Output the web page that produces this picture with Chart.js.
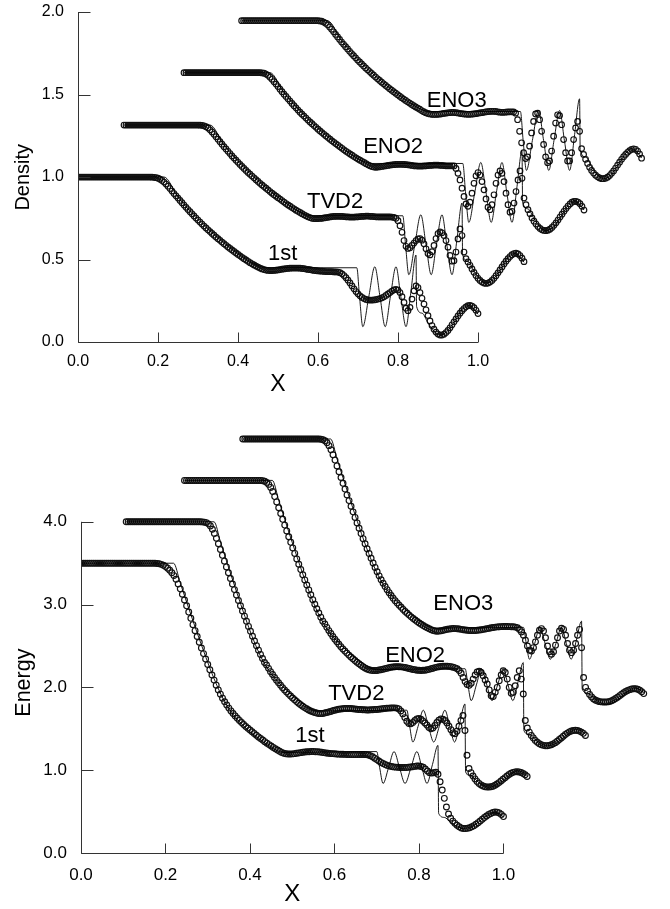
<!DOCTYPE html>
<html>
<head>
<meta charset="utf-8">
<script src="https://cdn.jsdelivr.net/npm/chart.js@4.4.1/dist/chart.umd.min.js"></script>
<style>
  html, body { margin: 0; padding: 0; background: #fff; }
  #wrap { width: 670px; height: 909px; }
  canvas { display: block; }
</style>
</head>
<body>
<div id="wrap">
  <canvas id="densityChart" width="670" height="420"></canvas>
  <canvas id="energyChart" width="670" height="489"></canvas>
</div>
<script>
const schemes = ["1st", "TVD2", "ENO2", "ENO3"];

// local grid of the computed solution (each curve is shifted in x and y in the figure)
const xGrid = [
  0, 0.005, 0.01, 0.015, 0.02, 0.025, 0.03, 0.035, 0.04, 0.045,
  0.05, 0.055, 0.06, 0.065, 0.07, 0.075, 0.08, 0.085, 0.09, 0.095,
  0.1, 0.105, 0.11, 0.115, 0.12, 0.125, 0.13, 0.135, 0.14, 0.145,
  0.15, 0.155, 0.16, 0.165, 0.17, 0.175, 0.18, 0.185, 0.19, 0.195,
  0.2, 0.205, 0.21, 0.215, 0.22, 0.225, 0.23, 0.235, 0.24, 0.245,
  0.25, 0.255, 0.26, 0.265, 0.27, 0.275, 0.28, 0.285, 0.29, 0.295,
  0.3, 0.305, 0.31, 0.315, 0.32, 0.325, 0.33, 0.335, 0.34, 0.345,
  0.35, 0.355, 0.36, 0.365, 0.37, 0.375, 0.38, 0.385, 0.39, 0.395,
  0.4, 0.405, 0.41, 0.415, 0.42, 0.425, 0.43, 0.435, 0.44, 0.445,
  0.45, 0.455, 0.46, 0.465, 0.47, 0.475, 0.48, 0.485, 0.49, 0.495,
  0.5, 0.505, 0.51, 0.515, 0.52, 0.525, 0.53, 0.535, 0.54, 0.545,
  0.55, 0.555, 0.56, 0.565, 0.57, 0.575, 0.58, 0.585, 0.59, 0.595,
  0.6, 0.605, 0.61, 0.615, 0.62, 0.625, 0.63, 0.635, 0.64, 0.645,
  0.65, 0.655, 0.66, 0.665, 0.67, 0.675, 0.68, 0.685, 0.69, 0.695,
  0.7, 0.705, 0.71, 0.715, 0.72, 0.725, 0.73, 0.735, 0.74, 0.745,
  0.75, 0.755, 0.76, 0.765, 0.77, 0.775, 0.78, 0.785, 0.79, 0.795,
  0.8, 0.805, 0.81, 0.815, 0.82, 0.825, 0.83, 0.835, 0.84, 0.845,
  0.85, 0.855, 0.86, 0.865, 0.87, 0.875, 0.88, 0.885, 0.89, 0.895,
  0.9, 0.905, 0.91, 0.915, 0.92, 0.925, 0.93, 0.935, 0.94, 0.945,
  0.95, 0.955, 0.96, 0.965, 0.97, 0.975, 0.98, 0.985, 0.99, 0.995,
  1
];

// ---- density ----
const den1st = [
  1,1,1,1,1,1,1,1,1,1, 1,1,1,1,1,1,1,1,1,1, 1,1,1,1,1,1,1,1,1,1,
  1,1,1,1,1,1,1,0.999,0.998,0.996,
  0.993,0.987,0.979,0.969,0.957,0.944,0.93,0.915,0.9,0.886,
  0.872,0.858,0.844,0.83,0.816,0.803,0.79,0.777,0.764,0.751,
  0.739,0.727,0.715,0.703,0.691,0.68,0.669,0.658,0.647,0.636,
  0.626,0.616,0.606,0.596,0.586,0.576,0.567,0.558,0.549,0.54,
  0.531,0.522,0.513,0.505,0.497,0.489,0.481,0.474,0.467,0.46,
  0.454,0.448,0.443,0.439,0.436,0.434,0.433,0.433,0.434,0.435,
  0.437,0.439,0.441,0.443,0.445,0.446,0.447,0.448,0.448,0.448,
  0.448,0.447,0.446,0.444,0.442,0.44,0.438,0.436,0.434,0.432,
  0.431,0.43,0.429,0.428,0.427,0.427,0.426,0.426,0.425,0.425,
  0.424,0.42,0.413,0.403,0.39,0.375,0.358,0.34,0.322,0.306,
  0.292,0.28,0.27,0.263,0.258,0.255,0.254,0.254,0.255,0.257,
  0.26,0.263,0.268,0.274,0.282,0.291,0.3,0.309,0.316,0.319,
  0.315,0.3,0.275,0.24,0.205,0.19,0.21,0.26,0.31,0.34,
  0.33,0.3,0.265,0.23,0.195,0.16,0.128,0.1,0.078,0.06,
  0.048,0.042,0.042,0.047,0.057,0.07,0.086,0.104,0.122,0.14,
  0.158,0.175,0.19,0.203,0.213,0.22,0.222,0.218,0.208,0.192,
  0.172
];
const denTVD2 = [
  1,1,1,1,1,1,1,1,1,1, 1,1,1,1,1,1,1,1,1,1, 1,1,1,1,1,1,1,1,1,1,
  1,1,1,1,1,1,1,1,0.999,0.998,
  0.995,0.99,0.982,0.971,0.958,0.944,0.929,0.914,0.899,0.884,
  0.869,0.855,0.841,0.827,0.813,0.8,0.787,0.774,0.761,0.749,
  0.737,0.725,0.713,0.702,0.691,0.68,0.669,0.658,0.647,0.637,
  0.627,0.617,0.607,0.597,0.587,0.578,0.569,0.56,0.551,0.542,
  0.533,0.524,0.516,0.508,0.5,0.492,0.484,0.477,0.47,0.463,
  0.456,0.45,0.444,0.439,0.435,0.433,0.432,0.433,0.434,0.435,
  0.437,0.439,0.441,0.443,0.445,0.446,0.447,0.447,0.447,0.446,
  0.445,0.444,0.443,0.442,0.442,0.442,0.443,0.444,0.445,0.446,
  0.447,0.448,0.448,0.447,0.446,0.445,0.444,0.443,0.443,0.443,
  0.443,0.443,0.443,0.443,0.442,0.44,0.435,0.42,0.39,0.35,
  0.3,0.265,0.252,0.256,0.27,0.285,0.3,0.31,0.312,0.302,
  0.28,0.25,0.222,0.213,0.232,0.27,0.312,0.342,0.352,0.347,
  0.33,0.3,0.26,0.21,0.175,0.178,0.23,0.31,0.37,0.33,
  0.23,0.19,0.17,0.15,0.128,0.107,0.088,0.071,0.058,0.048,
  0.042,0.04,0.042,0.048,0.058,0.071,0.087,0.104,0.122,0.14,
  0.158,0.175,0.19,0.203,0.214,0.221,0.223,0.219,0.209,0.193,
  0.172
];
const denENO2 = [
  1,1,1,1,1,1,1,1,1,1, 1,1,1,1,1,1,1,1,1,1, 1,1,1,1,1,1,1,1,1,1,
  1,1,1,1,1,1,1,1,1,0.999,
  0.997,0.992,0.984,0.973,0.96,0.946,0.931,0.916,0.9,0.885,
  0.87,0.856,0.842,0.828,0.814,0.8,0.787,0.774,0.761,0.749,
  0.737,0.725,0.713,0.702,0.691,0.68,0.669,0.658,0.647,0.637,
  0.627,0.617,0.607,0.597,0.587,0.578,0.569,0.56,0.551,0.542,
  0.533,0.524,0.516,0.508,0.5,0.492,0.484,0.477,0.47,0.463,
  0.456,0.449,0.442,0.436,0.431,0.428,0.427,0.428,0.43,0.432,
  0.434,0.436,0.438,0.44,0.442,0.443,0.444,0.445,0.445,0.445,
  0.444,0.443,0.442,0.44,0.438,0.436,0.435,0.434,0.434,0.434,
  0.435,0.436,0.437,0.438,0.439,0.44,0.44,0.44,0.439,0.438,
  0.437,0.436,0.436,0.436,0.436,0.435,0.42,0.39,0.35,0.3,
  0.25,0.205,0.19,0.215,0.27,0.33,0.375,0.395,0.38,0.34,
  0.29,0.235,0.185,0.17,0.2,0.26,0.33,0.38,0.405,0.39,
  0.34,0.27,0.2,0.155,0.16,0.21,0.28,0.35,0.405,0.36,
  0.24,0.2,0.17,0.145,0.12,0.1,0.083,0.068,0.056,0.048,
  0.044,0.043,0.046,0.052,0.062,0.075,0.09,0.107,0.125,0.143,
  0.16,0.177,0.192,0.205,0.215,0.22,0.221,0.216,0.206,0.19,
  0.168
];
const denENO3 = [
  1,1,1,1,1,1,1,1,1,1, 1,1,1,1,1,1,1,1,1,1, 1,1,1,1,1,1,1,1,1,1,
  1,1,1,1,1,1,1,1,1,0.999,
  0.997,0.992,0.985,0.975,0.962,0.948,0.933,0.917,0.902,0.887,
  0.871,0.857,0.843,0.829,0.815,0.801,0.788,0.775,0.762,0.75,
  0.738,0.726,0.714,0.703,0.692,0.681,0.67,0.659,0.648,0.638,
  0.628,0.618,0.608,0.598,0.588,0.579,0.57,0.561,0.552,0.543,
  0.534,0.525,0.517,0.509,0.501,0.493,0.485,0.478,0.471,0.464,
  0.456,0.449,0.443,0.438,0.435,0.433,0.432,0.432,0.433,0.434,
  0.436,0.438,0.44,0.442,0.443,0.444,0.444,0.443,0.441,0.439,
  0.437,0.435,0.434,0.433,0.433,0.434,0.435,0.437,0.439,0.441,
  0.443,0.445,0.447,0.449,0.45,0.451,0.451,0.45,0.448,0.446,
  0.445,0.445,0.446,0.447,0.448,0.448,0.447,0.44,0.4,0.33,
  0.26,0.2,0.165,0.175,0.24,0.32,0.39,0.435,0.44,0.4,
  0.33,0.25,0.175,0.14,0.15,0.21,0.3,0.38,0.43,0.425,
  0.37,0.28,0.2,0.15,0.15,0.2,0.28,0.35,0.39,0.33,
  0.225,0.19,0.16,0.135,0.112,0.093,0.077,0.064,0.054,0.047,
  0.043,0.043,0.046,0.052,0.062,0.075,0.09,0.107,0.125,0.143,
  0.16,0.176,0.19,0.203,0.213,0.22,0.224,0.221,0.21,0.192,
  0.167
];
// reference (thin line) solution, same local coordinates
const denExactX = [0, 0.215, 0.25, 0.3, 0.35, 0.4, 0.45, 0.472, 0.697, 0.704, 0.712, 0.727, 0.742, 0.755,
  0.768, 0.781, 0.795, 0.807, 0.82, 0.8325, 0.845, 0.8465, 0.86, 0.875, 0.89, 0.905, 0.92, 0.94, 0.96, 0.975, 0.99, 1];
const denExactY = [1, 1, 0.878, 0.742, 0.632, 0.537, 0.462, 0.45, 0.45, 0.27, 0.093, 0.275, 0.456, 0.275,
  0.093, 0.275, 0.456, 0.275, 0.093, 0.31, 0.527, 0.215, 0.175, 0.115, 0.065, 0.043, 0.058, 0.12, 0.195, 0.224, 0.2, 0.168];
const denShiftX = [0, 0.115, 0.265, 0.409];
const denShiftY = [0, 0.315, 0.632, 0.947];
const denWidth = [1, 1, 1, 1];
const denYTicks = [0, 0.5, 1, 1.5, 2];
const denTagX = [0.475, 0.5725, 0.713, 0.872];
const denTagY = [0.497, 0.812, 1.144, 1.426];

// ---- energy ----
const ene1st = [
  3.5,3.5,3.5,3.5,3.5,3.5,3.5,3.5,3.5,3.5, 3.5,3.5,3.5,3.5,3.5,3.5,3.5,3.5,3.5,3.5, 3.5,3.5,3.5,3.5,3.5,3.5,3.5,3.5,3.5,3.5,
  3.5,3.5,3.5,3.5,3.5,3.499,3.497,3.493,3.486,3.475,
  3.46,3.44,3.415,3.385,3.35,3.305,3.25,3.19,3.125,3.055,
  2.985,2.91,2.834,2.758,2.685,2.615,2.545,2.475,2.408,2.342,
  2.277,2.213,2.15,2.088,2.027,1.97,1.918,1.87,1.826,1.787,
  1.75,1.716,1.685,1.656,1.628,1.601,1.575,1.551,1.528,1.506,
  1.485,1.464,1.443,1.422,1.402,1.383,1.364,1.345,1.327,1.309,
  1.292,1.275,1.258,1.243,1.228,1.215,1.205,1.198,1.195,1.195,
  1.197,1.2,1.204,1.208,1.212,1.216,1.219,1.222,1.224,1.225,
  1.225,1.224,1.222,1.219,1.216,1.212,1.208,1.205,1.202,1.2,
  1.198,1.196,1.194,1.193,1.192,1.191,1.19,1.19,1.19,1.19,
  1.19,1.19,1.19,1.19,1.19,1.188,1.184,1.175,1.162,1.145,
  1.128,1.11,1.094,1.08,1.068,1.058,1.05,1.044,1.04,1.037,
  1.035,1.033,1.032,1.032,1.033,1.035,1.038,1.042,1.046,1.05,
  1.05,1.045,1.035,1.015,0.99,0.97,0.965,0.97,0.975,0.95,
  0.86,0.76,0.66,0.556,0.47,0.42,0.385,0.358,0.335,0.316,
  0.303,0.296,0.295,0.298,0.305,0.316,0.33,0.347,0.366,0.387,
  0.408,0.428,0.447,0.464,0.478,0.488,0.494,0.493,0.484,0.466,
  0.44
];
const eneTVD2 = [
  3.5,3.5,3.5,3.5,3.5,3.5,3.5,3.5,3.5,3.5, 3.5,3.5,3.5,3.5,3.5,3.5,3.5,3.5,3.5,3.5, 3.5,3.5,3.5,3.5,3.5,3.5,3.5,3.5,3.5,3.5,
  3.5,3.5,3.5,3.5,3.5,3.5,3.5,3.5,3.499,3.496,
  3.49,3.475,3.45,3.41,3.36,3.3,3.235,3.165,3.095,3.025,
  2.955,2.885,2.815,2.748,2.681,2.615,2.55,2.486,2.423,2.36,
  2.298,2.237,2.177,2.118,2.06,2.004,1.95,1.898,1.848,1.8,
  1.77,1.73,1.69,1.655,1.62,1.587,1.556,1.526,1.497,1.47,
  1.444,1.419,1.395,1.372,1.35,1.329,1.309,1.29,1.272,1.256,
  1.241,1.228,1.216,1.205,1.196,1.19,1.186,1.185,1.186,1.19,
  1.196,1.203,1.21,1.217,1.224,1.23,1.235,1.239,1.242,1.244,
  1.245,1.245,1.244,1.242,1.24,1.237,1.234,1.232,1.23,1.229,
  1.228,1.228,1.229,1.23,1.232,1.234,1.237,1.24,1.243,1.246,
  1.248,1.25,1.252,1.253,1.253,1.25,1.24,1.215,1.18,1.135,
  1.09,1.065,1.06,1.075,1.1,1.12,1.125,1.115,1.095,1.07,
  1.045,1.015,1.0,1.01,1.04,1.075,1.105,1.12,1.115,1.1,
  1.07,1.03,0.99,0.95,0.94,0.97,1.03,1.1,1.16,0.98,
  0.68,0.52,0.47,0.43,0.395,0.365,0.34,0.322,0.308,0.3,
  0.296,0.296,0.3,0.307,0.318,0.333,0.35,0.37,0.39,0.41,
  0.43,0.448,0.463,0.474,0.48,0.482,0.479,0.472,0.46,0.445,
  0.425
];
const eneENO2 = [
  3.5,3.5,3.5,3.5,3.5,3.5,3.5,3.5,3.5,3.5, 3.5,3.5,3.5,3.5,3.5,3.5,3.5,3.5,3.5,3.5, 3.5,3.5,3.5,3.5,3.5,3.5,3.5,3.5,3.5,3.5,
  3.5,3.5,3.5,3.5,3.5,3.5,3.5,3.5,3.5,3.497,
  3.49,3.476,3.452,3.415,3.365,3.305,3.24,3.17,3.1,3.03,
  2.96,2.89,2.82,2.752,2.685,2.618,2.552,2.487,2.423,2.36,
  2.298,2.237,2.177,2.118,2.06,2.004,1.95,1.898,1.848,1.8,
  1.765,1.725,1.686,1.65,1.615,1.582,1.551,1.521,1.492,1.465,
  1.439,1.414,1.39,1.367,1.345,1.324,1.304,1.285,1.267,1.25,
  1.235,1.222,1.212,1.206,1.203,1.203,1.205,1.209,1.214,1.22,
  1.226,1.232,1.238,1.243,1.247,1.25,1.251,1.25,1.248,1.245,
  1.24,1.235,1.229,1.223,1.217,1.212,1.208,1.206,1.205,1.206,
  1.208,1.212,1.218,1.225,1.232,1.239,1.245,1.25,1.254,1.256,
  1.257,1.256,1.254,1.25,1.244,1.236,1.225,1.205,1.17,1.12,
  1.07,1.035,1.025,1.05,1.1,1.15,1.185,1.195,1.18,1.14,
  1.09,1.04,0.97,0.9,0.89,0.94,1.0,1.08,1.15,1.2,
  1.18,1.1,1.0,0.93,0.94,1.02,1.12,1.2,1.1,0.92,
  0.6,0.51,0.46,0.42,0.39,0.36,0.338,0.32,0.308,0.3,
  0.296,0.296,0.3,0.307,0.318,0.333,0.35,0.37,0.39,0.41,
  0.43,0.448,0.463,0.474,0.48,0.482,0.479,0.472,0.46,0.445,
  0.42
];
const eneENO3 = [
  3.5,3.5,3.5,3.5,3.5,3.5,3.5,3.5,3.5,3.5, 3.5,3.5,3.5,3.5,3.5,3.5,3.5,3.5,3.5,3.5, 3.5,3.5,3.5,3.5,3.5,3.5,3.5,3.5,3.5,3.5,
  3.5,3.5,3.5,3.5,3.5,3.5,3.5,3.5,3.5,3.497,
  3.49,3.478,3.455,3.42,3.37,3.31,3.245,3.175,3.105,3.035,
  2.965,2.895,2.825,2.756,2.688,2.62,2.553,2.487,2.422,2.358,
  2.296,2.235,2.175,2.116,2.059,2.003,1.949,1.897,1.847,1.8,
  1.758,1.718,1.68,1.644,1.61,1.578,1.548,1.52,1.493,1.467,
  1.442,1.418,1.395,1.373,1.352,1.332,1.313,1.295,1.278,1.262,
  1.247,1.233,1.22,1.208,1.197,1.188,1.182,1.179,1.18,1.184,
  1.19,1.196,1.202,1.206,1.209,1.211,1.21,1.208,1.205,1.201,
  1.197,1.193,1.19,1.188,1.187,1.187,1.188,1.19,1.193,1.197,
  1.201,1.205,1.21,1.215,1.22,1.224,1.228,1.231,1.233,1.234,
  1.235,1.235,1.235,1.234,1.233,1.232,1.228,1.22,1.2,1.17,
  1.13,1.07,1.0,0.95,0.94,0.98,1.05,1.13,1.19,1.21,
  1.18,1.1,1.0,0.93,0.9,0.93,1.01,1.1,1.18,1.215,
  1.2,1.13,1.03,0.95,0.92,0.95,1.03,1.13,1.2,0.98,
  0.62,0.5,0.455,0.415,0.385,0.36,0.345,0.335,0.328,0.325,
  0.323,0.323,0.325,0.33,0.338,0.35,0.365,0.382,0.4,0.418,
  0.435,0.45,0.463,0.473,0.48,0.484,0.484,0.478,0.466,0.448,
  0.425
];
const eneExactX = [0, 0.219, 0.235, 0.25, 0.266, 0.286, 0.306, 0.322, 0.34, 0.361, 0.38, 0.4, 0.42, 0.44, 0.464, 0.478,
  0.7, 0.707, 0.715, 0.728, 0.741, 0.754, 0.767, 0.781, 0.795, 0.807, 0.819, 0.832, 0.845, 0.8465,
  0.86, 0.875, 0.89, 0.905, 0.92, 0.94, 0.96, 0.975, 0.99, 1];
const eneExactY = [3.5, 3.5, 3.26, 3.03, 2.79, 2.5, 2.22, 2.02, 1.83, 1.67, 1.56, 1.465, 1.385, 1.31, 1.235, 1.215,
  1.225, 1.03, 0.84, 1.03, 1.225, 1.03, 0.84, 1.03, 1.225, 1.03, 0.84, 1.07, 1.3, 0.48,
  0.43, 0.37, 0.32, 0.296, 0.31, 0.37, 0.45, 0.49, 0.475, 0.435];
const eneShiftX = [0, 0.107, 0.245, 0.383];
const eneShiftY = [0, 0.5, 1.0, 1.5];
const eneWidth = [1, 0.949, 0.949, 0.949];
const eneYTicks = [0, 1, 2, 3, 4];
const eneTagX = [0.507, 0.585, 0.72, 0.834];
const eneTagY = [1.34, 1.844, 2.307, 2.93];

const xTicks = [0, 0.2, 0.4, 0.6, 0.8, 1.0];
const FONT = "'Liberation Sans', Arial, Helvetica, sans-serif";

function buildDatasets(series, exactX, exactY, shiftX, shiftY, width, radius) {
    const sets = [];
    series.forEach((vals, k) => {
        sets.push({
            label: schemes[k] + " exact",
            data: exactX.map((x, i) => ({ x: shiftX[k] + width[k] * x, y: shiftY[k] + exactY[i] })),
            showLine: true,
            borderColor: "#000",
            borderWidth: 0.9,
            pointRadius: 0,
            pointHoverRadius: 0,
            cubicInterpolationMode: "monotone"
        });
        sets.push({
            label: schemes[k],
            data: vals.map((v, i) => ({ x: shiftX[k] + width[k] * xGrid[i], y: shiftY[k] + v })),
            showLine: false,
            pointRadius: radius,
            pointHoverRadius: radius,
            pointBorderWidth: 1.15,
            pointBorderColor: "#111",
            pointBackgroundColor: "rgba(255,255,255,0)"
        });
    });
    return sets;
}

// axis frame, inward ticks, titles and curve tags
function frame(opt) {
    return {
        id: "frame",
        afterDraw(chart) {
            const ctx = chart.ctx, sx = chart.scales.x, sy = chart.scales.y;
            const L = Math.round(sx.getPixelForValue(xTicks[0])) + 0.5;
            const R = sx.getPixelForValue(xTicks[xTicks.length - 1]);
            const B = Math.round(sy.getPixelForValue(opt.yTicks[0])) + 0.5;
            const T = sy.getPixelForValue(opt.yTicks[opt.yTicks.length - 1]);
            ctx.save();
            ctx.strokeStyle = "#333";
            ctx.lineWidth = 1;
            ctx.beginPath();
            ctx.moveTo(L, T);
            ctx.lineTo(L, B);
            ctx.lineTo(R, B);
            xTicks.forEach(v => {
                const p = Math.round(sx.getPixelForValue(v)) + 0.5;
                ctx.moveTo(p, B);
                ctx.lineTo(p, B - 10);
            });
            opt.yTicks.forEach(v => {
                const p = Math.round(sy.getPixelForValue(v)) + 0.5;
                ctx.moveTo(L, p);
                ctx.lineTo(L + 12, p);
            });
            ctx.stroke();

            ctx.fillStyle = "#000";
            ctx.textAlign = "center";
            ctx.textBaseline = "alphabetic";
            ctx.font = opt.xTitleSize + "px " + FONT;
            ctx.fillText("X", sx.getPixelForValue(0.5), B + opt.xTitleGap);

            ctx.save();
            ctx.translate(opt.yTitleX, (T + B) / 2 + opt.yTitleShift);
            ctx.rotate(-Math.PI / 2);
            ctx.textBaseline = "middle";
            ctx.font = opt.yTitleSize + "px " + FONT;
            ctx.fillText(opt.yTitle, 0, 0);
            ctx.restore();

            ctx.textAlign = "left";
            ctx.font = opt.tagSize + "px " + FONT;
            schemes.forEach((s, i) => {
                ctx.fillText(s, sx.getPixelForValue(opt.tagX[i]), sy.getPixelForValue(opt.tagY[i]));
            });
            ctx.restore();
        }
    };
}

function makeChart(id, datasets, o) {
    new Chart(document.getElementById(id), {
        type: "scatter",
        data: { datasets: datasets },
        options: {
            responsive: false,
            animation: false,
            devicePixelRatio: 1,
            layout: { padding: { top: o.padTop, right: o.padRight, left: 0, bottom: 0 } },
            plugins: { legend: { display: false }, tooltip: { enabled: false } },
            events: [],
            scales: {
                x: {
                    type: "linear",
                    min: 0,
                    max: o.xMax,
                    afterBuildTicks: s => { s.ticks = xTicks.map(v => ({ value: v })); },
                    afterFit: s => { s.height = o.xAxisHeight; s.paddingLeft = 0; s.paddingRight = 0; },
                    grid: { display: false, drawTicks: false },
                    border: { display: false },
                    ticks: {
                        autoSkip: false, maxRotation: 0, padding: o.xTickPad, color: "#000",
                        font: { family: FONT, size: o.tickSize },
                        callback: v => v.toFixed(1)
                    }
                },
                y: {
                    type: "linear",
                    min: 0,
                    max: o.yMax,
                    afterBuildTicks: s => { s.ticks = o.yTicks.map(v => ({ value: v })); },
                    afterFit: s => { s.width = o.yAxisWidth; s.paddingTop = 0; s.paddingBottom = 0; },
                    grid: { display: false, drawTicks: false },
                    border: { display: false },
                    ticks: {
                        autoSkip: false, padding: 14, color: "#000",
                        font: { family: FONT, size: o.tickSize },
                        callback: v => v.toFixed(1)
                    }
                }
            }
        },
        plugins: [frame(o)]
    });
}

makeChart("densityChart",
    buildDatasets([den1st, denTVD2, denENO2, denENO3], denExactX, denExactY, denShiftX, denShiftY, denWidth, 2.8),
    {
        padTop: 12, padRight: 12, xMax: 1.45, yMax: 2, xAxisHeight: 78, yAxisWidth: 78,
        yTicks: denYTicks, tickSize: 16, xTickPad: 10,
        xTitleSize: 23, xTitleGap: 48, yTitle: "Density", yTitleSize: 20, yTitleX: 23, yTitleShift: 0,
        tagX: denTagX, tagY: denTagY, tagSize: 22
    });

makeChart("energyChart",
    buildDatasets([ene1st, eneTVD2, eneENO2, eneENO3], eneExactX, eneExactY, eneShiftX, eneShiftY, eneWidth, 2.9),
    {
        padTop: 7, padRight: 6, xMax: 1.38, yMax: 5.145, xAxisHeight: 56, yAxisWidth: 81,
        yTicks: eneYTicks, tickSize: 17, xTickPad: 12,
        xTitleSize: 24, xTitleGap: 47, yTitle: "Energy", yTitleSize: 21.5, yTitleX: 24, yTitleShift: -5,
        tagX: eneTagX, tagY: eneTagY, tagSize: 22
    });
</script>
</body>
</html>
